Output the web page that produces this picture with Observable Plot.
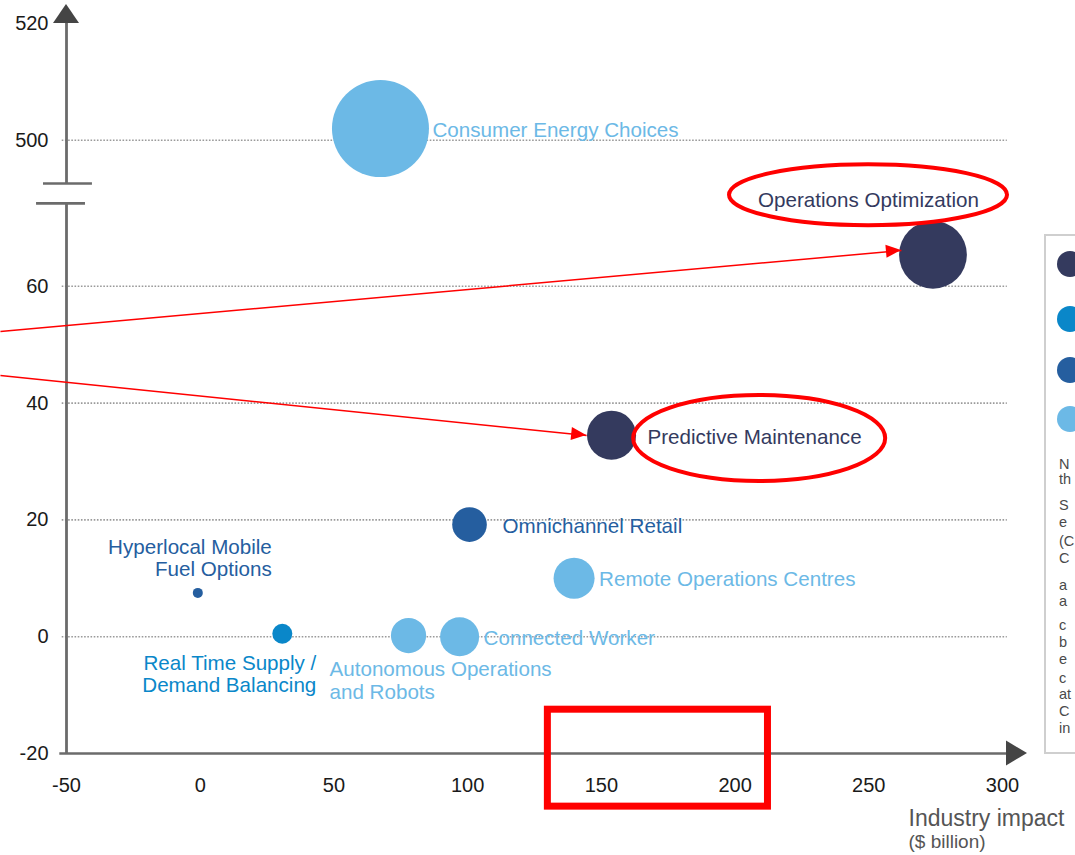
<!DOCTYPE html>
<html>
<head>
<meta charset="utf-8">
<script src="https://cdn.jsdelivr.net/npm/d3@7"></script>
<script src="https://cdn.jsdelivr.net/npm/@observablehq/plot@0.6"></script>
<style>
  html, body { margin: 0; padding: 0; background: #fff; overflow: hidden; }
  #chart svg { display: block; overflow: hidden; }
</style>
</head>
<body>
<div id="chart"></div>
<script>
// ---------------- DATA ----------------
const names = [
  "Consumer Energy Choices", "Operations Optimization", "Predictive Maintenance",
  "Omnichannel Retail", "Remote Operations Centres", "Connected Worker",
  "Autonomous Operations and Robots", "Real Time Supply / Demand Balancing",
  "Hyperlocal Mobile Fuel Options"
];
const labels = [
  "Consumer Energy Choices", "Operations Optimization", "Predictive Maintenance",
  "Omnichannel Retail", "Remote Operations Centres", "Connected Worker",
  "Autonomous Operations\nand Robots", "Real Time Supply /\nDemand Balancing",
  "Hyperlocal Mobile\nFuel Options"
];
const industryImpact = [67.4, 274, 153.8, 100.7, 139.8, 97, 77.9, 30.7, -0.9];   // $ billion
const societalImpact = [502, 65.4, 34.5, 19.2, 10, 0, 0.2, 0.5, 7.5];
const bubbleSize     = [235, 115, 60, 30, 42, 38, 31, 10, 2.5];
const bubbleTheme    = [3, 0, 0, 2, 3, 3, 3, 1, 2];
const themes = [
  "Digital Asset Life Cycle Management",
  "Circular, Collaborative Ecosystem",
  "Beyond the Barrel",
  "Energizing New Customers"
];
const themeColors = ["#343a5e", "#0a87c9", "#255e9f", "#6cb9e6"];
const xTicks = [-50, 0, 50, 100, 150, 200, 250, 300];
const yTicks = [-20, 0, 20, 40, 60, 500, 520];
const gridValues = [0, 20, 40, 60, 500];
const xTitle = "Industry impact";
const xSubtitle = "($ billion)";
// the note panel is cut by the right edge of the picture: only these fragments show
const noteFragments = ["N", "th", "S", "e", "(C", "C", "a", "a", "c", "b", "e", "c", "at", "C", "in"];

// ---------------- LAYOUT / STYLE ----------------
const W = 1075, H = 855;
const brk = v => (v >= 400 ? v - 415 : v);       // broken y axis: 500 -> 85
const FONT = "'Liberation Sans', Arial, Helvetica, sans-serif";
const RED = "#ff0000";
const AXIS = "#6b6b6b";
const LABEL_SIZE = 20.6;

const bubbles = names.map((name, i) => ({
  name, label: labels[i], x: industryImpact[i], y: societalImpact[i],
  size: bubbleSize[i], theme: themes[bubbleTheme[i]]
}));

// label placement relative to bubble centre (pixels)
const placement = [
  {anchor: "start", dx: 52, dy: 1},
  {anchor: "end", dx: 46, dy: -55},
  {anchor: "start", dx: 36, dy: 2},
  {anchor: "start", dx: 33, dy: 1},
  {anchor: "start", dx: 25, dy: 0},
  {anchor: "start", dx: 24, dy: 1},
  {anchor: "start", dx: -79, dy: 45},
  {anchor: "end", dx: 34, dy: 40},
  {anchor: "end", dx: 74, dy: -35}
];

const annotations = {
  arrows: [
    {x1: -74.7, y1: 52.26, x2: 262.2, y2: 66.13},
    {x1: -74.7, y1: 44.73, x2: 144.5, y2: 34.45}
  ],
  ellipses: [
    {cx: 249.9, cy: 75.6, rx: 139, ry: 30.5},
    {cx: 209.2, cy: 33.94, rx: 126, ry: 43}
  ],
  rects: [{x1: 130, x2: 212.3, y1: -12.5, y2: -29.1}]
};

function decor(index, scales, values, dims) {
  const X = scales.x, Y = scales.y;
  const g = d3.create("svg:g");
  // axis arrow heads
  const ax = X(-50), ayTop = Y(105);
  g.append("path").attr("d", `M${ax - 13},${ayTop} L${ax + 13},${ayTop} L${ax},${ayTop - 19}Z`).attr("fill", "#454545");
  const bx = X(301.5), by = Y(-20);
  g.append("path").attr("d", `M${bx},${by - 12.5} L${bx},${by + 12.5} L${bx + 21},${by}Z`).attr("fill", "#454545");
  // red ellipses
  for (const e of annotations.ellipses) {
    g.append("ellipse").attr("cx", X(e.cx)).attr("cy", Y(e.cy)).attr("rx", e.rx).attr("ry", e.ry)
      .attr("fill", "none").attr("stroke", RED).attr("stroke-width", 4);
  }
  // red arrow heads
  for (const a of annotations.arrows) {
    const x1 = X(a.x1), y1 = Y(a.y1), x2 = X(a.x2), y2 = Y(a.y2);
    const ang = Math.atan2(y2 - y1, x2 - x1), L = 15, hw = 6.5;
    const bxh = x2 - L * Math.cos(ang), byh = y2 - L * Math.sin(ang);
    const px = -Math.sin(ang) * hw, py = Math.cos(ang) * hw;
    g.append("path").attr("d", `M${x2},${y2} L${bxh + px},${byh + py} L${bxh - px},${byh - py}Z`).attr("fill", RED);
  }
  // legend box (cut by the right edge)
  const lx = W - 30, ly = 235, lb = Y(-20);
  g.append("rect").attr("x", lx).attr("y", ly).attr("width", 60).attr("height", lb - ly)
    .attr("fill", "none").attr("stroke", "#cfcfcf").attr("stroke-width", 2);
  const legendY = [264, 319, 370, 419];
  themes.forEach((t, i) => {
    g.append("circle").attr("cx", lx + 25).attr("cy", legendY[i]).attr("r", 13).attr("fill", themeColors[i]);
  });
  const noteY = [464, 479, 505, 522, 541, 558, 585, 601, 625, 642, 659, 678, 694, 711, 728];
  noteFragments.forEach((t, i) => {
    g.append("text").attr("x", lx + 14).attr("y", noteY[i]).attr("dy", "0.35em").attr("font-size", 14.5)
      .attr("text-anchor", "start").attr("fill", "#4a4a4a").attr("font-family", FONT).text(t);
  });
  return g.node();
}

const labelMarks = bubbles.map((b, i) => Plot.text([b], {
  x: "x", y: d => brk(d.y), text: "label", fill: "theme",
  textAnchor: placement[i].anchor, dx: placement[i].dx, dy: placement[i].dy,
  lineAnchor: "middle", lineHeight: 1.1, fontSize: LABEL_SIZE
}));

const chart = Plot.plot({
  width: W, height: H,
  marginLeft: 66, marginRight: 73, marginTop: 23, marginBottom: 102,
  style: {fontFamily: FONT, fontSize: "20px", background: "#fff", overflow: "hidden"},
  x: {domain: [-50, 300], axis: null},
  y: {domain: [-20, 105], axis: null},
  r: {type: "sqrt", domain: [0, 235], range: [0, 48.5]},
  color: {domain: themes, range: themeColors},
  marks: [
    // dotted gridlines
    Plot.ruleY(gridValues, {y: brk, x1: -51.6, x2: 301.8, stroke: "#9a9a9a", strokeWidth: 1.6, strokeDasharray: "1.6,1.6"}),
    // axis lines (y axis broken)
    Plot.ruleX([-50], {y1: -20, y2: 74.2, stroke: AXIS, strokeWidth: 2.8}),
    Plot.ruleX([-50], {y1: 77.6, y2: 105, stroke: AXIS, strokeWidth: 2.8}),
    Plot.ruleY([-20], {x1: -52.5, x2: 301.6, stroke: AXIS, strokeWidth: 2.6}),
    Plot.ruleY([77.6], {x1: -58.6, x2: -40.3, stroke: AXIS, strokeWidth: 2.6}),
    Plot.ruleY([74.2], {x1: -61.2, x2: -42.9, stroke: AXIS, strokeWidth: 2.6}),
    // tick labels
    Plot.text(yTicks, {x: -50, y: brk, text: d => String(d), textAnchor: "end", dx: -18, fontSize: 20, fill: "#1a1a1a"}),
    Plot.text(xTicks, {x: d => d, y: -20, text: d => String(d), dy: 32, fontSize: 20, fill: "#1a1a1a"}),
    // axis title
    Plot.text([xTitle], {frameAnchor: "bottom-right", text: d => d, textAnchor: "start", dx: -94, dy: 72, fontSize: 23, fill: "#555"}),
    Plot.text([xSubtitle], {frameAnchor: "bottom-right", text: d => d, textAnchor: "start", dx: -94, dy: 94, fontSize: 19, fill: "#555"}),
    // bubbles
    Plot.dot(bubbles, {x: "x", y: d => brk(d.y), r: "size", fill: "theme"}),
    ...labelMarks,
    // annotations
    Plot.link(annotations.arrows, {x1: "x1", y1: "y1", x2: "x2", y2: "y2", stroke: RED, strokeWidth: 1.5}),
    Plot.rect(annotations.rects, {x1: "x1", x2: "x2", y1: "y1", y2: "y2", fill: "none", stroke: RED, strokeWidth: 7}),
    decor
  ]
});
document.getElementById("chart").appendChild(chart);
</script>
</body>
</html>
